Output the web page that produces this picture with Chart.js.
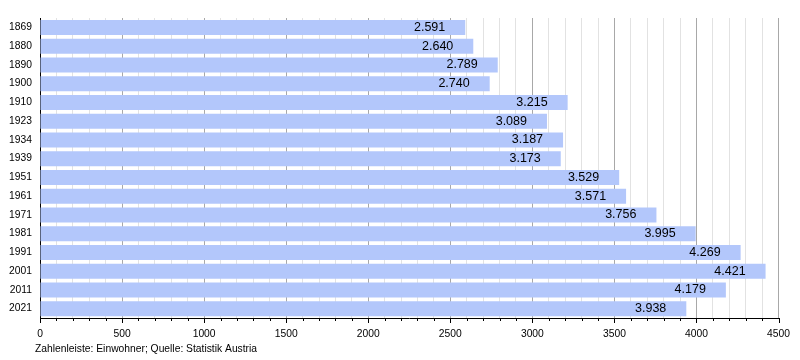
<!DOCTYPE html>
<html>
<head>
<meta charset="utf-8">
<script src="https://cdn.jsdelivr.net/npm/chart.js@4/dist/chart.umd.min.js"></script>
<style>
  html, body { margin:0; padding:0; background:#fff; }
  #wrap { width:800px; height:360px; position:relative; }
</style>
</head>
<body>
<div id="wrap"><canvas id="chart" width="800" height="360"></canvas></div>
<script>
// years (categories) and population values
const years = ["1869","1880","1890","1900","1910","1923","1934","1939","1951","1961","1971","1981","1991","2001","2011","2021"];
const population = [2591,2640,2789,2740,3215,3089,3187,3173,3529,3571,3756,3995,4269,4421,4179,3938];
const xMax = 4500;
const footnote = "Zahlenleiste: Einwohner; Quelle: Statistik Austria";

const FONT = "'Liberation Sans', Arial, sans-serif";
const SMALL = 10.3;

// format 2591 -> "2.591"
function fmt(v){
  return String(v).replace(/\B(?=(\d{3})+(?!\d))/g, ".");
}

// value labels at bar end + small ticks + footnote
const extras = {
  id:'extras',
  afterDatasetsDraw(chart){
    const ctx = chart.ctx;
    const meta = chart.getDatasetMeta(0);
    ctx.save();
    ctx.font = "12.5px " + FONT;
    ctx.fillStyle = "#000";
    ctx.textAlign = "right";
    ctx.textBaseline = "middle";
    meta.data.forEach((bar, i)=>{
      ctx.fillText(fmt(population[i]), bar.x - 20, bar.y);
    });
    ctx.restore();
  },
  afterDraw(chart){
    const ctx = chart.ctx;
    const x = chart.scales.x;
    const area = chart.chartArea;
    ctx.save();
    ctx.strokeStyle = "#000";
    ctx.lineWidth = 1;
    for(let v = 0; v <= xMax; v += 100){
      const px = Math.round(x.getPixelForValue(v)) + 0.5;
      const len = (v % 500 === 0) ? 5 : 3;
      ctx.beginPath();
      ctx.moveTo(px, area.bottom);
      ctx.lineTo(px, area.bottom + len);
      ctx.stroke();
    }
    ctx.font = SMALL + "px " + FONT;
    ctx.fillStyle = "#000";
    ctx.textAlign = "left";
    ctx.textBaseline = "middle";
    ctx.fillText(footnote, 35, 349);
    ctx.restore();
  }
};

new Chart(document.getElementById("chart"),{
  type:'bar',
  data:{
    labels: years,
    datasets:[{
      data: population,
      backgroundColor:'#b3c7fb',
      borderWidth:0,
      barPercentage:0.8,
      categoryPercentage:1.0
    }]
  },
  options:{
    indexAxis:'y',
    responsive:false,
    animation:false,
    layout:{ padding:{ left:0, right:21, top:18, bottom:0 } },
    plugins:{
      legend:{ display:false },
      tooltip:{ enabled:false }
    },
    scales:{
      x:{
        min:0,
        max:xMax,
        afterFit(scale){ scale.height = 42; },
        ticks:{
          stepSize:100,
          autoSkip:false,
          maxRotation:0,
          padding:10,
          color:'#000',
          font:{ family:FONT, size:SMALL },
          callback(v){ return v % 500 === 0 ? String(v) : ''; }
        },
        grid:{
          drawTicks:false,
          color(c){ return (c.tick && c.tick.value % 500 === 0) ? '#a8a8a8' : '#e2e2e2'; }
        },
        border:{ color:'#000', width:1 }
      },
      y:{
        afterFit(scale){ scale.width = 40; },
        ticks:{
          padding:8,
          color:'#000',
          font:{ family:FONT, size:SMALL }
        },
        grid:{ display:false, drawTicks:false },
        border:{ color:'#000', width:1 }
      }
    }
  },
  plugins:[extras]
});
</script>
</body>
</html>
